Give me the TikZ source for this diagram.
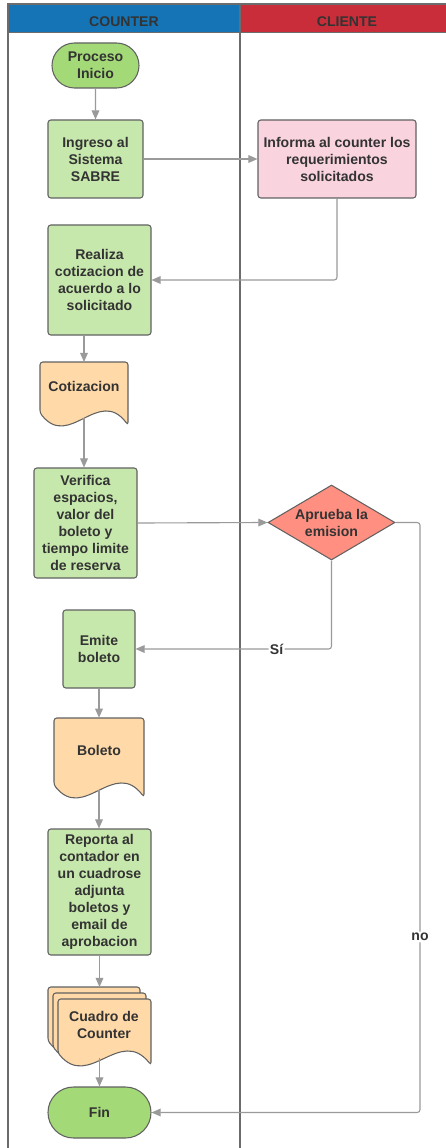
\documentclass[tikz,border=0pt]{standalone}
\usepackage{fontspec}
\setmainfont{Liberation Sans}
\usetikzlibrary{arrows.meta,shapes.geometric,shapes.misc}

\definecolor{laneblue}{HTML}{1474B6}
\definecolor{lanered}{HTML}{C92D39}
\definecolor{termgreen}{HTML}{A3D977}
\definecolor{procgreen}{HTML}{C7E8AC}
\definecolor{clientpink}{HTML}{F9D3DE}
\definecolor{docpeach}{HTML}{FFD9A8}
\definecolor{decisionred}{HTML}{FF8F80}
\definecolor{textgray}{HTML}{333333}
\definecolor{edgegray}{HTML}{616161}
\definecolor{arrowgray}{HTML}{9A9A9A}

% page with a wavy lower edge: x1, y1, x2, y2, name
\newcommand{\docshape}[5]{%
  \draw[docline] (#1,{#2+20}) -- (#1,#2) -- (#3,#2) -- (#3,#4)
    .. controls ({#1+2*(#3-#1)/3},{#4-39}) and ({#1+(#3-#1)/3},{#4+25}) .. (#1,{#4-12}) -- cycle;
  \coordinate (#5-top) at ({(#1+#3)/2},#2);
  \coordinate (#5-end) at ({(#1+#3)/2},{#4-7});
}

\begin{document}
\begin{tikzpicture}[x=0.025cm, y=-0.025cm,
  txt/.style={font=\fontsize{10}{12.1}\selectfont\bfseries, text=textgray, align=center},
  boxsize/.style 2 args={minimum width=#1*0.025cm, minimum height=#2*0.025cm},
  terminal/.style={txt, rounded rectangle, draw=edgegray, fill=termgreen, line width=0.75pt, inner sep=0pt},
  process/.style={txt, rectangle, rounded corners=2pt, draw=edgegray, fill=procgreen, line width=0.75pt, inner sep=0pt},
  decision/.style={txt, diamond, aspect=1.7, draw=edgegray, fill=decisionred, line width=0.75pt, inner sep=0pt},
  doctext/.style={txt, inner sep=0pt},
  docline/.style={draw=edgegray, fill=docpeach, line width=0.75pt, rounded corners=2pt},
  lane/.style={draw=gray!85!black, line width=1pt},
  flow/.style={draw=arrowgray, line width=0.8pt, rounded corners=2pt, -{Triangle[length=6.5pt,width=5.5pt]}},
  flowlabel/.style={txt, fill=white, inner sep=1pt}]

  \useasboundingbox (0,0) rectangle (446,1148);
  \clip (0,0) rectangle (446,1148);

  % lanes
  \fill[laneblue] (8,4) rectangle (240,32);
  \fill[lanered] (240,4) rectangle (460,32);
  \draw[lane] (8,1160) -- (8,4) -- (460,4);
  \draw[lane, line width=0.6pt] (8,32) -- (460,32);
  \draw[lane] (240,4) -- (240,1160);
  \node[txt] (counter) at (124,21.7) {COUNTER};
  \node[txt] (cliente) at (347,21.7) {CLIENTE};

  \node[terminal, boxsize={87}{45}] (inicio) at (95.5,65.5) {Proceso\\Inicio};
  \node[process, boxsize={95}{78}] (ingreso) at (95.5,159) {Ingreso al\\Sistema\\SABRE};
  \node[process, fill=clientpink, boxsize={158}{78}] (informa) at (337,159) {Informa al counter los\\requerimientos\\solicitados};
  \node[process, boxsize={103}{110}] (realiza) at (99.5,280) {Realiza\\cotizacion de\\acuerdo a lo\\solicitado};
  \docshape{40}{362}{128}{425}{cotiz}
  \node[doctext, boxsize={88}{48}] (cotizacion) at (84,386) {Cotizacion};
  \node[process, boxsize={103}{110}] (verifica) at (85.5,523) {Verifica\\espacios,\\valor del\\boleto y\\tiempo limite\\de reserva};
  \node[decision, boxsize={127}{75}] (aprueba) at (331.5,522.5) {Aprueba la\\emision};
  \node[process, boxsize={72}{78}] (emite) at (99,649) {Emite\\boleto};
  \docshape{54}{718}{144}{797}{bol}
  \node[doctext, boxsize={90}{64}] (boleto) at (99,750) {Boleto};
  \node[process, boxsize={103}{126}] (reporta) at (99.5,892) {Reporta al\\contador en\\un cuadrose\\adjunta\\boletos y\\email de\\aprobacion};
  \docshape{48}{987}{140}{1053}{cuadA}
  \docshape{53}{993}{146}{1059}{cuadB}
  \docshape{58}{999}{151}{1065}{cuadC}
  \node[doctext, boxsize={93}{51}] (cuadro) at (104,1024.5) {Cuadro de\\Counter};
  \node[terminal, boxsize={103}{51}] (fin) at (99.5,1112.5) {Fin};

  \coordinate (noturn) at (420,937);

  \draw[flow] (inicio) -- (ingreso);
  \draw[flow] (ingreso) -- (informa);
  \draw[flow] (informa.south) |- (realiza.east);
  \draw[flow] (realiza.south -| cotiz-top) -- (cotiz-top);
  \draw[flow] (cotiz-end) -- (verifica.north -| cotiz-end);
  \draw[flow] (verifica.east) -- (aprueba.west);
  \draw[flow] (aprueba.south) |- node[flowlabel, pos=0.64] {Sí} (emite.east);
  \draw[flow] (aprueba.east) -| (noturn) node[flowlabel] {no} |- (fin.east);
  \draw[flow] (emite) -- (boleto);
  \draw[flow] (bol-end) -- (reporta.north -| bol-end);
  \draw[flow] (reporta.south) -- (reporta.south |- cuadA-top);
  \draw[flow] (fin.north |- cuadC-end) -- (fin.north);
\end{tikzpicture}
\end{document}
